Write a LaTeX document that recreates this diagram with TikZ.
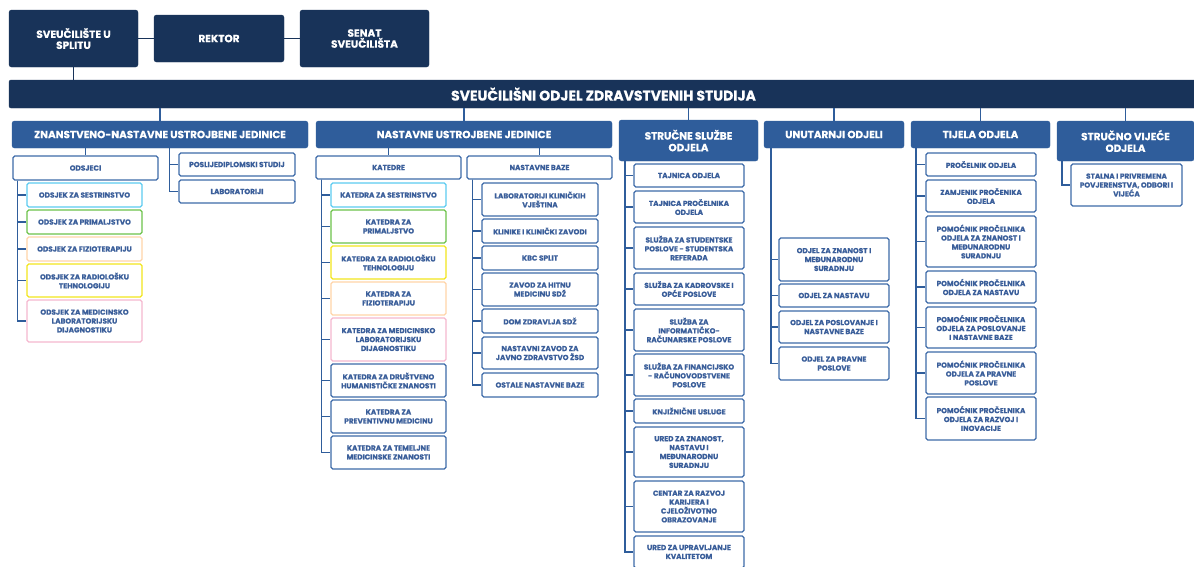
\documentclass[tikz,border=0pt]{standalone}
\usepackage{fontspec}
\setmainfont{Poppins}[BoldFeatures={FakeBold=0.6}]
\usetikzlibrary{calc}
\definecolor{navy}{HTML}{183359}
\definecolor{hblue}{HTML}{2F5D9B}
\definecolor{bblue}{HTML}{3D6AA8}
\definecolor{tblue}{HTML}{3A5E9A}
\definecolor{cyanb}{HTML}{5CCBF0}
\definecolor{greenb}{HTML}{6CC24A}
\definecolor{peachb}{HTML}{FFD4A8}
\definecolor{yellowb}{HTML}{F2E51C}
\definecolor{pinkb}{HTML}{F5B7CF}
\newcommand\mybox[7]{%
  \node[#1, minimum width={(#5-#3)*1pt}, minimum height={(#6-#4)*1pt}] (#2) at ({(#3+#5)/2},{(#4+#6)/2}) {#7};}
\begin{document}
\begin{tikzpicture}[x=1pt,y=-1pt,
  topbox/.style={fill=navy, draw=navy, rounded corners=2.5pt, text=white, inner sep=0pt, align=center,
    font=\fontsize{10.5}{11}\selectfont\bfseries},
  barbox/.style={fill=navy, draw=navy, rounded corners=2pt, text=white, inner sep=0pt, align=center,
    font=\fontsize{14}{15}\selectfont\bfseries},
  hdr/.style={fill=hblue, draw=hblue, rounded corners=2.5pt, text=white, inner sep=0pt, align=center,
    font=\fontsize{10.4}{11.7}\selectfont\bfseries},
  cb/.style={draw=bblue, line width=1.2pt, fill=white, rounded corners=1.8pt, text=tblue, inner sep=0pt,
    align=center, font=\fontsize{7.3}{8.9}\selectfont\bfseries},
  cyanbox/.style={cb, draw=cyanb},
  greenbox/.style={cb, draw=greenb},
  peachbox/.style={cb, draw=peachb},
  yellowbox/.style={cb, draw=yellowb},
  pinkbox/.style={cb, draw=pinkb},
  conn/.style={draw=hblue, line width=1.8pt},
  topconn/.style={draw=navy, line width=1.8pt}]
\useasboundingbox (0,0) rectangle (1194,566);
\clip (0,0) rectangle (1194,566);

% top
\mybox{topbox}{su}{9}{10}{138}{67}{SVEUČILIŠTE U\\SPLITU}
\mybox{topbox}{rek}{154}{15}{284}{62}{REKTOR}
\mybox{topbox}{sen}{300}{10}{429}{67}{SENAT\\SVEUČILIŠTA}
\mybox{barbox}{bar}{9}{80}{1198}{108}{SVEUČILIŠNI ODJEL ZDRAVSTVENIH STUDIJA}

\draw[topconn] (su.east) -- (rek.west);
\draw[topconn] (rek.east) -- (sen.west);
\draw[topconn] (su.south) -- (su.south |- bar.north);

% headers
\mybox{hdr}{zn}{12}{121}{308}{148}{ZNANSTVENO-NASTAVNE USTROJBENE JEDINICE}
\mybox{hdr}{nu}{316}{121}{612}{148}{NASTAVNE USTROJBENE JEDINICE}
\mybox{hdr}{ss}{619}{120}{758}{161}{STRUČNE SLUŽBE\\ODJELA}
\mybox{hdr}{uo}{764}{121}{904}{148}{UNUTARNJI ODJELI}
\mybox{hdr}{to}{911}{121}{1050}{148}{TIJELA ODJELA}
\mybox{hdr}{sv}{1057}{121}{1194}{161}{STRUČNO VIJEĆE\\ODJELA}

\foreach \h in {zn,nu,ss,uo,to,sv} \draw[conn] (\h.north |- bar.south) -- (\h.north);

% znanstveno-nastavne
\mybox{cb}{ods}{13}{156}{158}{180}{ODSJECI}
\mybox{cb}{pd}{179}{153}{295}{176}{POSLIJEDIPLOMSKI STUDIJ}
\mybox{cb}{lab}{179}{180}{295}{203}{LABORATORIJI}
\mybox{cyanbox}{o1}{27}{183}{142}{207}{ODSJEK ZA SESTRINSTVO}
\mybox{greenbox}{o2}{27}{210}{142}{234}{ODSJEK ZA PRIMALJSTVO}
\mybox{peachbox}{o3}{27}{237}{142}{261}{ODSJEK ZA FIZIOTERAPIJU}
\mybox{yellowbox}{o4}{27}{264}{142}{297}{ODSJEK ZA RADIOLOŠKU\\TEHNOLOGIJU}
\mybox{pinkbox}{o5}{27}{300}{142}{342}{ODSJEK ZA MEDICINSKO\\LABORATORIJSKU\\DIJAGNOSTIKU}

\draw[conn] (ods.north |- zn.south) -- (ods.north);
\coordinate (tz) at ($(pd.west)+(-9,0)$);
\draw[conn] (zn.south -| tz) |- (pd.west);
\draw[conn] (zn.south -| tz) |- (lab.west);
\coordinate (to1) at ($(ods.south west)+(5,0)$);
\foreach \c in {o1,o2,o3,o4,o5} \draw[conn] (to1) |- (\c.west);

% nastavne
\mybox{cb}{kat}{316}{156}{461}{179}{KATEDRE}
\mybox{cb}{nb}{467}{156}{612}{179}{NASTAVNE BAZE}
\draw[conn] (kat.north |- nu.south) -- (kat.north);
\draw[conn] (nb.north |- nu.south) -- (nb.north);

\mybox{cyanbox}{k1}{331}{183}{446}{207}{KATEDRA ZA SESTRINSTVO}
\mybox{greenbox}{k2}{331}{210}{446}{243}{KATEDRA ZA\\PRIMALJSTVO}
\mybox{yellowbox}{k3}{331}{246}{446}{279}{KATEDRA ZA RADIOLOŠKU\\TEHNOLOGIJU}
\mybox{peachbox}{k4}{331}{282}{446}{315}{KATEDRA ZA\\FIZIOTERAPIJU}
\mybox{pinkbox}{k5}{331}{318}{446}{361}{KATEDRA ZA MEDICINSKO\\LABORATORIJSKU\\DIJAGNOSTIKU}
\mybox{cb}{k6}{331}{364}{446}{397}{KATEDRA ZA DRUŠTVENO\\HUMANISTIČKE ZNANOSTI}
\mybox{cb}{k7}{331}{400}{446}{433}{KATEDRA ZA\\PREVENTIVNU MEDICINU}
\mybox{cb}{k8}{331}{436}{446}{469}{KATEDRA ZA TEMELJNE\\MEDICINSKE ZNANOSTI}
\coordinate (tk) at ($(kat.south west)+(6,0)$);
\foreach \c in {k1,k2,k3,k4,k5,k6,k7,k8} \draw[conn] (tk) |- (\c.west);

\mybox{cb}{b1}{482}{183}{598}{216}{LABORATORIJI KLINIČKIH\\VJEŠTINA}
\mybox{cb}{b2}{482}{219}{598}{243}{KLINIKE I KLINIČKI ZAVODI}
\mybox{cb}{b3}{482}{246}{598}{270}{KBC SPLIT}
\mybox{cb}{b4}{482}{273}{598}{306}{ZAVOD ZA HITNU\\MEDICINU SDŽ}
\mybox{cb}{b5}{482}{309}{598}{333}{DOM ZDRAVLJA SDŽ}
\mybox{cb}{b6}{482}{337}{598}{369}{NASTAVNI ZAVOD ZA\\JAVNO ZDRAVSTVO ŽSD}
\mybox{cb}{b7}{482}{373}{598}{397}{OSTALE NASTAVNE BAZE}
\coordinate (tb) at ($(nb.south west)+(6,0)$);
\foreach \c in {b1,b2,b3,b4,b5,b6,b7} \draw[conn] (tb) |- (\c.west);

% strucne sluzbe
\mybox{cb}{s1}{634}{164}{744}{187}{TAJNICA ODJELA}
\mybox{cb}{s2}{634}{191}{744}{223}{TAJNICA PROČELNIKA\\ODJELA}
\mybox{cb}{s3}{634}{227}{744}{269}{SLUŽBA ZA STUDENTSKE\\POSLOVE - STUDENTSKA\\REFERADA}
\mybox{cb}{s4}{634}{273}{744}{305}{SLUŽBA ZA KADROVSKE I\\OPĆE POSLOVE}
\mybox{cb}{s5}{634}{309}{744}{351}{SLUŽBA ZA\\INFORMATIČKO-\\RAČUNARSKE POSLOVE}
\mybox{cb}{s6}{634}{354}{744}{396}{SLUŽBA ZA FINANCIJSKO\\- RAČUNOVODSTVENE\\POSLOVE}
\mybox{cb}{s7}{634}{399}{744}{423}{KNJIŽNIČNE USLUGE}
\mybox{cb}{s8}{634}{427}{744}{477}{URED ZA ZNANOST,\\NASTAVU I\\MEĐUNARODNU\\SURADNJU}
\mybox{cb}{s9}{634}{481}{744}{532}{CENTAR ZA RAZVOJ\\KARIJERA I\\CJELOŽIVOTNO\\OBRAZOVANJE}
\mybox{cb}{s10}{634}{536}{744}{568}{URED ZA UPRAVLJANJE\\KVALITETOM}
\coordinate (ts) at ($(ss.south west)+(6,0)$);
\foreach \c in {s1,s2,s3,s4,s5,s6,s7,s8,s9,s10} \draw[conn] (ts) |- (\c.west);

% unutarnji odjeli
\mybox{cb}{u1}{779}{238}{889}{281}{ODJEL ZA ZNANOST I\\MEĐUNARODNU\\SURADNJU}
\mybox{cb}{u2}{779}{284}{889}{307}{ODJEL ZA NASTAVU}
\mybox{cb}{u3}{779}{311}{889}{343}{ODJEL ZA POSLOVANJE I\\NASTAVNE BAZE}
\mybox{cb}{u4}{779}{347}{889}{380}{ODJEL ZA PRAVNE\\POSLOVE}
\coordinate (tu) at ($(uo.south west)+(7,0)$);
\foreach \c in {u1,u2,u3,u4} \draw[conn] (tu) |- (\c.west);

% tijela odjela
\mybox{cb}{t1}{926}{153}{1036}{176}{PROČELNIK ODJELA}
\mybox{cb}{t2}{926}{180}{1036}{212}{ZAMJENIK PROČENIKA\\ODJELA}
\mybox{cb}{t3}{926}{216}{1036}{267}{POMOĆNIK PROČELNIKA\\ODJELA ZA ZNANOST I\\MEĐUNARODNU\\SURADNJU}
\mybox{cb}{t4}{926}{271}{1036}{303}{POMOĆNIK PROČELNIKA\\ODJELA ZA NASTAVU}
\mybox{cb}{t5}{926}{307}{1036}{348}{POMOĆNIK PROČELNIKA\\ODJELA ZA POSLOVANJE\\I NASTAVNE BAZE}
\mybox{cb}{t6}{926}{352}{1036}{394}{POMOĆNIK PROČELNIKA\\ODJELA ZA PRAVNE\\POSLOVE}
\mybox{cb}{t7}{926}{397}{1036}{440}{POMOĆNIK PROČELNIKA\\ODJELA ZA RAZVOJ I\\INOVACIJE}
\coordinate (tt) at ($(to.south west)+(5,0)$);
\foreach \c in {t1,t2,t3,t4,t5,t6,t7} \draw[conn] (tt) |- (\c.west);

% strucno vijece
\mybox{cb}{v1}{1071}{164}{1182}{206}{STALNA I PRIVREMENA\\POVJERENSTVA, ODBORI I\\VIJEĆA}
\draw[conn] ($(sv.south west)+(5,0)$) |- (v1.west);
\end{tikzpicture}
\end{document}
